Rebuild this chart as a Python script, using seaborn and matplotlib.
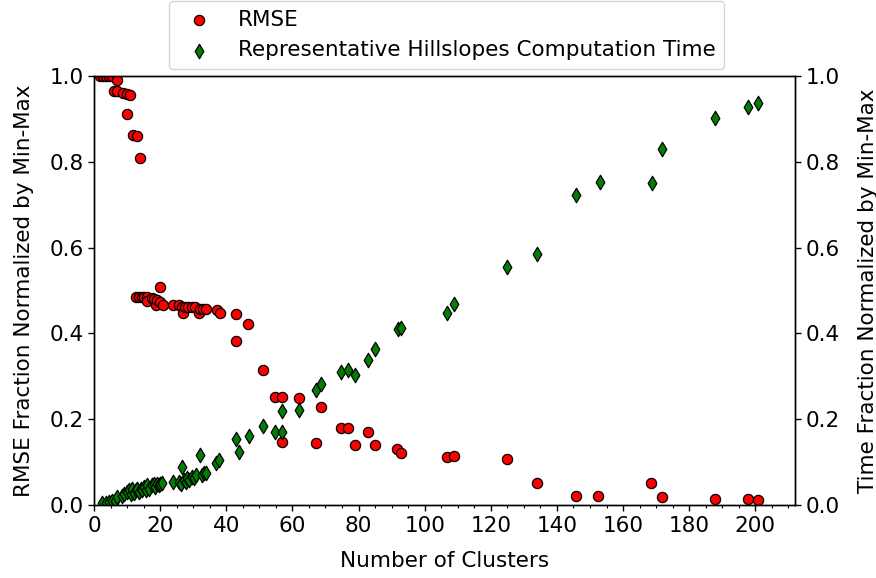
import matplotlib
matplotlib.use("Agg")
import matplotlib.pyplot as plt
import matplotlib.ticker as mticker
import seaborn as sns
import pandas as pd

# -----------------------------
# Data
# -----------------------------
rmse_clusters = [1.8, 2.7, 3.6, 4.5, 5.4, 6.9, 6.0, 6.9, 8.9, 9.9, 10.9, 9.9, 11.7, 12.9, 14.0,
                 12.7, 13.7, 14.4, 15.1, 15.9, 15.9, 17.4, 18.2, 18.9, 19.2, 19.9, 19.9, 20.8,
                 23.8, 25.6, 26.5, 26.8, 27.5, 28.5, 29.5, 30.5, 31.8, 32.0, 33.0, 34.0, 37.1,
                 38.1, 42.9, 46.6, 42.9, 51.0, 54.8, 56.9, 56.9, 62.0, 68.8, 67.0, 74.8, 76.8,
                 78.9, 82.9, 84.9, 91.6, 93.0, 106.9, 108.8, 124.9, 133.9, 145.8, 152.4, 168.6,
                 171.7, 187.9, 197.9, 200.9]
rmse_frac = [1.0, 1.0, 1.0, 1.0, 1.0, 0.99, 0.966, 0.966, 0.96, 0.958, 0.956, 0.911, 0.862, 0.86, 0.808,
             0.486, 0.486, 0.486, 0.486, 0.486, 0.476, 0.482, 0.48, 0.466, 0.479, 0.507, 0.474, 0.466,
             0.466, 0.466, 0.462, 0.447, 0.461, 0.461, 0.461, 0.461, 0.447, 0.458, 0.458, 0.458, 0.455,
             0.447, 0.445, 0.421, 0.382, 0.315, 0.251, 0.252, 0.146, 0.249, 0.228, 0.144, 0.179, 0.179,
             0.141, 0.171, 0.139, 0.130, 0.122, 0.113, 0.114, 0.107, 0.051, 0.021, 0.021, 0.052,
             0.019, 0.015, 0.013, 0.012]

time_clusters = [2.5, 3.5, 4.5, 5.5, 6.5, 7.0, 8.6, 9.1, 10.1, 10.6, 11.1, 11.6, 12.1, 12.6, 13.1,
                 13.6, 14.1, 14.6, 15.1, 15.6, 16.1, 16.6, 17.6, 18.1, 18.6, 19.1, 19.6, 20.1, 20.6,
                 23.9, 25.7, 26.4, 26.7, 27.2, 27.7, 28.2, 28.7, 29.7, 30.2, 30.7, 32.0, 32.7, 33.2,
                 33.9, 36.8, 37.8, 42.9, 43.9, 46.9, 51.0, 54.8, 56.9, 56.9, 61.9, 67.0, 68.8, 74.8,
                 76.8, 78.9, 82.9, 84.9, 91.9, 93.0, 106.9, 108.8, 124.9, 133.9, 145.8, 152.9, 168.9,
                 171.9, 187.9, 197.9, 200.9]
time_frac = [0.004, 0.004, 0.006, 0.01, 0.01, 0.018, 0.022, 0.026, 0.03, 0.034, 0.026, 0.038, 0.028,
             0.034, 0.038, 0.03, 0.038, 0.034, 0.042, 0.034, 0.046, 0.038, 0.046, 0.05, 0.042, 0.05,
             0.046, 0.05, 0.052, 0.054, 0.054, 0.05, 0.089, 0.058, 0.054, 0.062, 0.058, 0.066, 0.062,
             0.07, 0.117, 0.07, 0.074, 0.075, 0.097, 0.105, 0.155, 0.124, 0.162, 0.185, 0.169, 0.171,
             0.218, 0.221, 0.267, 0.282, 0.311, 0.315, 0.302, 0.338, 0.363, 0.41, 0.412, 0.447, 0.468,
             0.555, 0.585, 0.722, 0.753, 0.751, 0.831, 0.902, 0.927, 0.938]

rmse_df = pd.DataFrame({"clusters": rmse_clusters, "frac": rmse_frac})
time_df = pd.DataFrame({"clusters": time_clusters, "frac": time_frac})

# -----------------------------
# Plot
# -----------------------------
sns.set_style("ticks")
fs = 15.5
plt.rcParams["font.family"] = ["DejaVu Sans"]
plt.rcParams["font.size"] = fs
plt.rcParams["text.color"] = "black"
plt.rcParams["axes.labelcolor"] = "black"
plt.rcParams["xtick.color"] = "black"
plt.rcParams["ytick.color"] = "black"

fig = plt.figure(figsize=(8.76, 5.78), dpi=100)
ax1 = fig.add_axes([0.1073, 0.1263, 0.8002, 0.7422])
ax2 = ax1.twinx()

sns.scatterplot(data=rmse_df, x="clusters", y="frac", ax=ax1, color="red", marker="o",
                s=54, edgecolor="black", linewidth=0.9, label="RMSE", legend=False)
sns.scatterplot(data=time_df, x="clusters", y="frac", ax=ax2, color="green", marker="d",
                s=54, edgecolor="black", linewidth=0.9,
                label="Representative Hillslopes Computation Time", legend=False)

for ax in (ax1, ax2):
    ax.set_ylim(0, 1)
    ax.yaxis.set_major_locator(mticker.MultipleLocator(0.2))
    ax.yaxis.set_major_formatter(mticker.FormatStrFormatter("%.1f"))
    ax.tick_params(labelsize=fs, direction="out", length=4, width=1, colors="black")
    for sp in ax.spines.values():
        sp.set_visible(True)
        sp.set_color("black")
        sp.set_linewidth(1.0)

ax1.set_xlim(0, 212)
ax1.xaxis.set_major_locator(mticker.MultipleLocator(20))
ax1.xaxis.set_minor_locator(mticker.MultipleLocator(5))
ax1.tick_params(axis="x", which="minor", length=2, width=0.8)
ax1.tick_params(axis="x", which="major", pad=4)

ax1.set_xlabel("Number of Clusters", fontsize=fs, labelpad=11)
ax1.set_ylabel("RMSE Fraction Normalized by Min-Max", fontsize=fs, labelpad=11)
ax2.set_ylabel("Time Fraction Normalized by Min-Max", fontsize=fs, labelpad=13)

h1, l1 = ax1.get_legend_handles_labels()
h2, l2 = ax2.get_legend_handles_labels()
fig.legend(h1 + h2, l1 + l2, loc="upper left", bbox_to_anchor=(169 / 876, 1 - 1 / 578),
           borderaxespad=0, fontsize=fs, frameon=True, fancybox=True,
           framealpha=0.8, edgecolor="0.8")

fig.savefig("out.png", dpi=100)
plt.close(fig)
